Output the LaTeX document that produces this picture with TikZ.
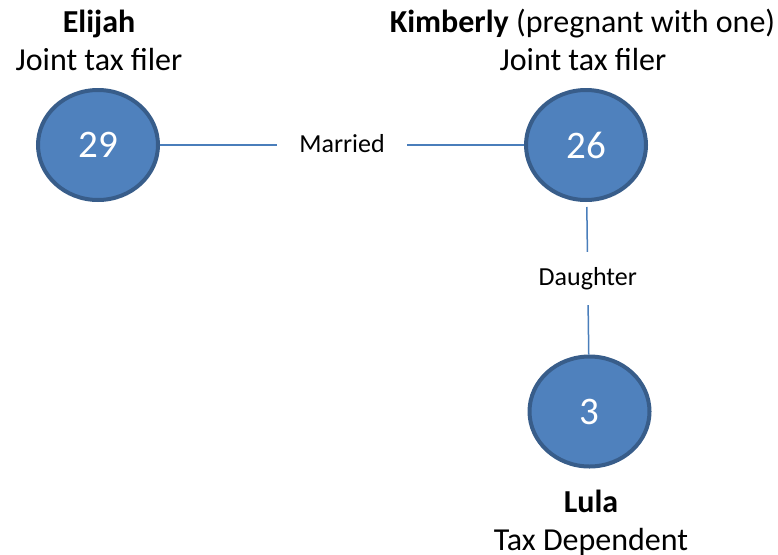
\documentclass[tikz,border=0pt]{standalone}
\usepackage{fontspec}
\setmainfont{Carlito}
\usetikzlibrary{shapes.geometric}
\definecolor{fillblue}{HTML}{4F81BD}
\definecolor{edgeblue}{HTML}{385D8A}
\definecolor{lineblue}{HTML}{4A7EBB}
\tikzset{
  person/.style={ellipse, draw=edgeblue, fill=fillblue, line width=4pt,
    minimum width=120pt, minimum height=110pt, inner sep=0pt,
    text=white, font=\fontsize{39}{44}\selectfont},
  conn/.style={draw=lineblue, line width=1.5pt},
  rel/.style={fill=white, inner xsep=22pt, inner ysep=14.5pt,
    text height=19pt, text depth=5pt, font=\fontsize{26}{30}\selectfont},
  caption/.style={anchor=base, inner sep=0pt, font=\fontsize{32}{36}\selectfont},
}
\begin{document}
\begin{tikzpicture}[x=1pt,y=-1pt]
\useasboundingbox (0,0) rectangle (778,554);
\node[person] (e) at (98,145) {29};
\node[person] (k) at (586,145) {26};
\node[person] (l) at (589.5,411.5) {3};
\draw[conn] (e) -- node[rel] (m) {Married} (k);
\draw[conn, shorten <=5pt] (k) -- node[rel] (d) {Daughter} (l);
\node[caption] (en) at (99,32) {\textbf{Elijah}};
\node[caption] (er) at (99,70) {Joint tax filer};
\node[caption] (kn) at (582.5,32) {\textbf{Kimberly} (pregnant with one)};
\node[caption] (kr) at (583,70) {Joint tax filer};
\node[caption] (ln) at (591,512) {\textbf{Lula}};
\node[caption] (lr) at (591,550) {Tax Dependent};
\end{tikzpicture}
\end{document}
